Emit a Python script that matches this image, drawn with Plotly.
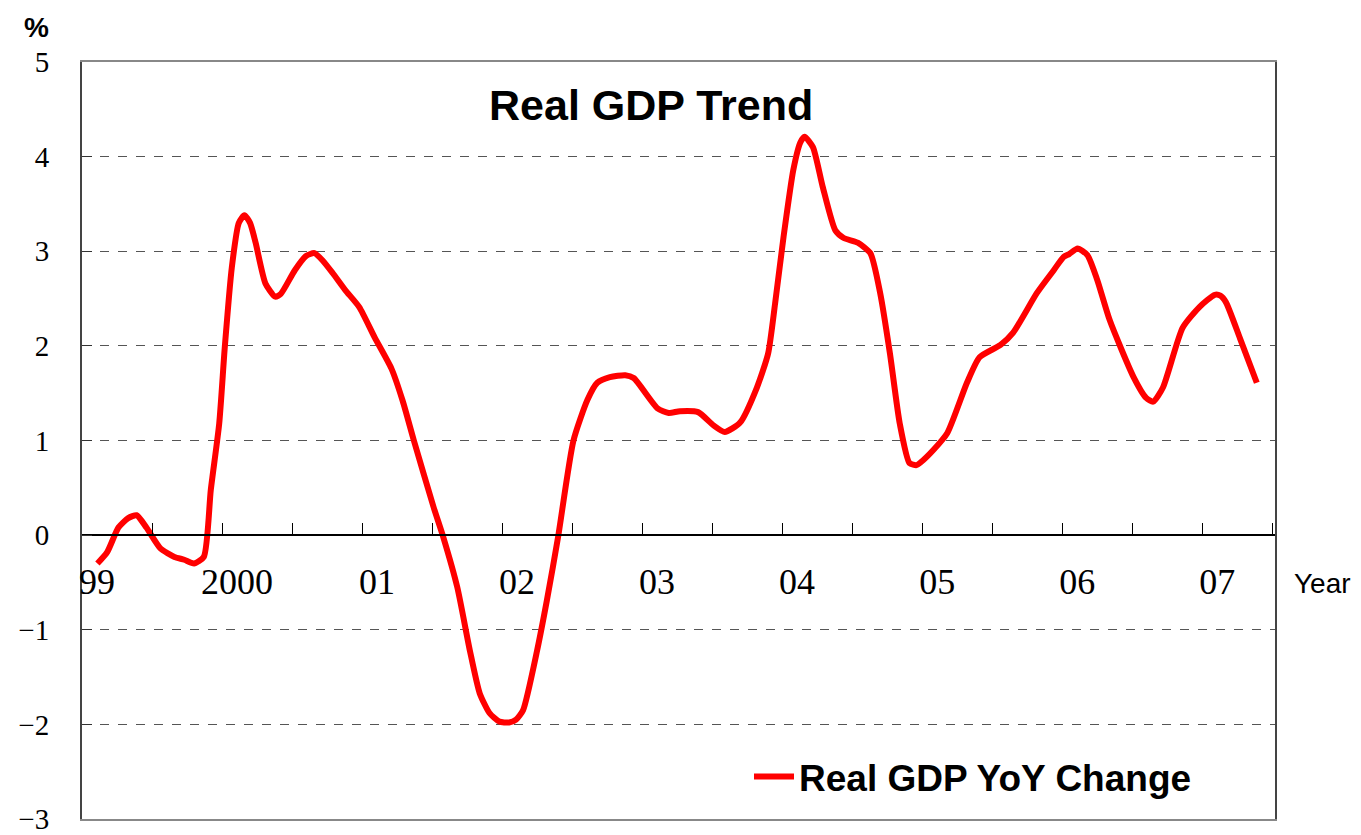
import plotly.graph_objects as go

# ---- data ----
years = [1999.11, 1999.18, 1999.26, 1999.33, 1999.39, 1999.46, 1999.56, 1999.66, 1999.73, 1999.80,
         1999.87, 1999.92, 1999.98, 2000.02, 2000.07, 2000.12, 2000.16, 2000.20, 2000.24, 2000.31,
         2000.38, 2000.42, 2000.52, 2000.60, 2000.66, 2000.72, 2000.79, 2000.88, 2000.98, 2001.09,
         2001.21, 2001.29, 2001.37, 2001.51, 2001.58, 2001.68, 2001.77, 2001.84, 2001.91, 2001.98,
         2002.05, 2002.10, 2002.15, 2002.25, 2002.32, 2002.40, 2002.51, 2002.61, 2002.68, 2002.77,
         2002.88, 2002.94, 2003.11, 2003.19, 2003.27, 2003.40, 2003.51, 2003.59, 2003.70, 2003.82,
         2003.90, 2003.95, 2004.01, 2004.08, 2004.13, 2004.16, 2004.22, 2004.29, 2004.38, 2004.44,
         2004.54, 2004.63, 2004.70, 2004.77, 2004.84, 2004.91, 2004.96, 2004.99, 2005.08, 2005.18,
         2005.32, 2005.41, 2005.56, 2005.65, 2005.82, 2005.94, 2006.01, 2006.05, 2006.11, 2006.18,
         2006.25, 2006.34, 2006.51, 2006.60, 2006.65, 2006.72, 2006.86, 2006.98, 2007.09, 2007.13,
         2007.17, 2007.27, 2007.39]
gdp_yoy = [-0.30, -0.18, 0.08, 0.18, 0.21, 0.08, -0.14, -0.23, -0.26, -0.30,
           -0.23, 0.48, 1.18, 1.99, 2.83, 3.30, 3.38, 3.30, 3.09, 2.66,
           2.52, 2.55, 2.80, 2.95, 2.98, 2.90, 2.77, 2.59, 2.41, 2.09,
           1.76, 1.42, 1.00, 0.30, -0.02, -0.55, -1.22, -1.67, -1.88, -1.97,
           -1.98, -1.95, -1.85, -1.22, -0.69, -0.02, 1.00, 1.43, 1.61, 1.67,
           1.69, 1.66, 1.34, 1.29, 1.31, 1.30, 1.16, 1.09, 1.19, 1.56,
           1.92, 2.45, 3.15, 3.86, 4.15, 4.21, 4.10, 3.68, 3.22, 3.14,
           3.09, 2.98, 2.56, 1.92, 1.18, 0.76, 0.74, 0.77, 0.90, 1.08,
           1.61, 1.88, 2.01, 2.14, 2.56, 2.80, 2.94, 2.97, 3.03, 2.96,
           2.70, 2.27, 1.67, 1.45, 1.41, 1.56, 2.19, 2.41, 2.54, 2.53,
           2.46, 2.08, 1.61]

tick_years = [1999, 1999.5, 2000, 2000.5, 2001, 2001.5, 2002, 2002.5, 2003, 2003.5,
              2004, 2004.5, 2005, 2005.5, 2006, 2006.5, 2007, 2007.5]
tick_labels = ["99", "", "2000", "", "01", "", "02", "", "03", "",
               "04", "", "05", "", "06", "", "07", ""]
y_ticks = [-3, -2, -1, 0, 1, 2, 3, 4, 5]

series_name = "Real GDP YoY Change"
chart_title = "Real GDP Trend"

x_range = [1999, 2007.52]
y_range = [-3, 5]
zero_pos = (0 - y_range[0]) / (y_range[1] - y_range[0])

W, H = 1361, 835
L, R, T, B = 82, 86, 62, 16
PW, PH = W - L - R, H - T - B


def px_to_paper(px, py):
    return (px - L) / PW, 1 - (py - T) / PH


fig = go.Figure()
fig.add_trace(go.Scatter(
    x=years, y=gdp_yoy, mode="lines", name=series_name,
    line=dict(color="#ff0000", width=6, shape="spline", smoothing=0.6),
))
# invisible companion trace so the zero-line axis is drawn
fig.add_trace(go.Scatter(
    x=years, y=gdp_yoy, xaxis="x2", mode="lines", line=dict(width=0),
    opacity=0, showlegend=False, hoverinfo="skip",
))

year_x, year_y = px_to_paper(1322, 583)
pct_x, pct_y = px_to_paper(36, 27)
ttl_x, ttl_y = px_to_paper(651, 105)
leg_x, leg_y = px_to_paper(749, 777)

fig.update_layout(
    width=W, height=H,
    paper_bgcolor="white", plot_bgcolor="white",
    margin=dict(l=L, r=R, t=T, b=B, autoexpand=False),
    showlegend=True,
    legend=dict(
        x=leg_x, y=leg_y, xanchor="left", yanchor="middle",
        font=dict(family="Liberation Sans", size=37, color="black", weight="bold"),
        bgcolor="rgba(0,0,0,0)", itemwidth=40,
    ),
    xaxis=dict(
        range=x_range, showline=True, mirror=True, linecolor="#888888", linewidth=2,
        showgrid=False, zeroline=False, showticklabels=False, ticks="", automargin=False,
    ),
    xaxis2=dict(
        overlaying="x", anchor="free", position=zero_pos, side="bottom",
        range=x_range, showline=True, linecolor="black", linewidth=1.5,
        showgrid=False, zeroline=False, automargin=False,
        tickmode="array", tickvals=tick_years, ticktext=tick_labels,
        ticks="inside", ticklen=11, tickwidth=1, tickcolor="black",
        ticklabelshift=15, ticklabelstandoff=15, ticklabeloverflow="allow",
        tickfont=dict(family="Liberation Serif", size=36, color="black"),
    ),
    yaxis=dict(
        range=y_range, tickmode="array", tickvals=y_ticks, automargin=False,
        showline=True, mirror=True, linecolor="#444444", linewidth=2,
        ticks="inside", ticklen=10, tickcolor="#333333",
        showgrid=True, gridcolor="#555555", gridwidth=1, griddash="dash",
        zeroline=False, ticklabelstandoff=25, ticklabeloverflow="allow",
        tickfont=dict(family="Liberation Serif", size=29, color="black"),
    ),
    annotations=[
        dict(text=chart_title, x=ttl_x, y=ttl_y, xref="paper", yref="paper",
             showarrow=False, xanchor="center", yanchor="middle",
             font=dict(family="Liberation Sans", size=43, color="black", weight="bold")),
        dict(text="Year", x=year_x, y=year_y, xref="paper", yref="paper", showarrow=False,
             xanchor="center", yanchor="middle",
             font=dict(family="Liberation Sans", size=28, color="black")),
        dict(text="%", x=pct_x, y=pct_y, xref="paper", yref="paper", showarrow=False,
             xanchor="center", yanchor="middle",
             font=dict(family="Liberation Sans", size=28, color="black", weight="bold")),
    ],
)

fig.write_html("out.html", config={"displayModeBar": False},
               post_script="document.body.style.margin='0';")
